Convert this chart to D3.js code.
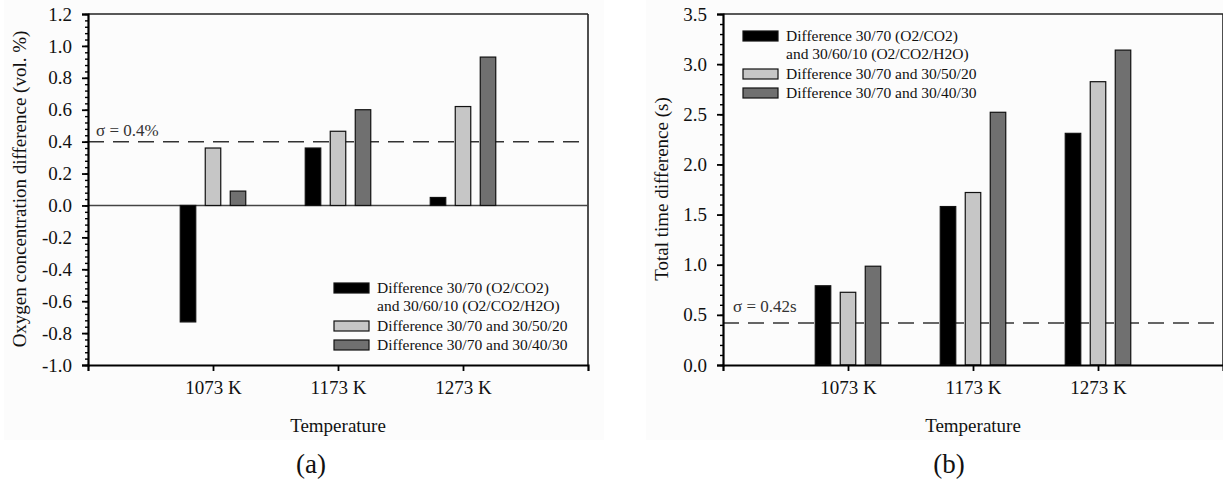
<!DOCTYPE html>
<meta charset="utf-8">
<head>
    <script type="text/javascript" src="https://d3js.org/d3.v7.min.js"></script>
    <style>
        body { margin: 0; background: #fff; }
        svg text { font-family: "Liberation Serif", "Times New Roman", serif; fill: #111; }
    </style>
    <title>Temperature differences</title>
</head>
<body>
<div id="chart"></div>
<script>
    // data
    var categories = ["1073 K", "1173 K", "1273 K"];
    var seriesNames = ["Difference 30/70 (O2/CO2)|and 30/60/10 (O2/CO2/H2O)",
                       "Difference 30/70 and 30/50/20",
                       "Difference 30/70 and 30/40/30"];
    var seriesColors = ["#000000", "#c6c6c6", "#707070"];

    var o2Black = [-0.73, 0.36, 0.05];
    var o2Light = [0.36, 0.465, 0.62];
    var o2Dark  = [0.09, 0.60, 0.93];

    var timeBlack = [0.79, 1.58, 2.31];
    var timeLight = [0.725, 1.72, 2.825];
    var timeDark  = [0.985, 2.52, 3.14];

    var o2Ticks = [-1.0, -0.8, -0.6, -0.4, -0.2, 0.0, 0.2, 0.4, 0.6, 0.8, 1.0, 1.2];
    var timeTicks = [0.0, 0.5, 1.0, 1.5, 2.0, 2.5, 3.0, 3.5];

    var serif = '"Liberation Serif", "Times New Roman", serif';
    var W = 1223, H = 479;
    var svg = d3.select("#chart").append("svg").attr("width", W).attr("height", H)
        .style("font-family", serif);

    // faint panel backgrounds
    svg.append("rect").attr("x", 4).attr("y", 0).attr("width", 600).attr("height", 440).attr("fill", "#fcfcfc");
    svg.append("rect").attr("x", 646).attr("y", 0).attr("width", 577).attr("height", 440).attr("fill", "#fcfcfc");

    function styleAxis(a) {
        a.attr("font-family", serif).attr("font-size", 19);
        a.select(".domain").attr("stroke-width", 2.2);
        a.selectAll("line").attr("stroke-width", 1.8);
        a.selectAll("text").style("font-family", serif).style("font-size", "19px").style("fill", "#111");
    }

    function drawPanel(cfg) {
        var g = svg.append("g");
        var x = d3.scaleLinear().domain([0, 4]).range([cfg.left, cfg.left + 500]);
        var y = d3.scaleLinear().domain(cfg.domain).range([365, 14]);
        var offset = d3.scalePoint().domain([0, 1, 2]).range([-25, 25]);
        var bw = 15.5;

        // border top / right
        g.append("line").attr("x1", x(0)).attr("x2", x(4)).attr("y1", y(cfg.domain[1])).attr("y2", y(cfg.domain[1]))
            .attr("stroke", "#222").attr("stroke-width", 1.6);
        g.append("line").attr("x1", x(4)).attr("x2", x(4)).attr("y1", y(cfg.domain[1])).attr("y2", y(cfg.domain[0]))
            .attr("stroke", "#222").attr("stroke-width", 1.6);

        // zero line
        if (cfg.domain[0] < 0) {
            g.append("line").attr("x1", x(0)).attr("x2", x(4)).attr("y1", y(0)).attr("y2", y(0))
                .attr("stroke", "#444").attr("stroke-width", 1.5);
        }

        // sigma line
        g.append("line").attr("x1", x(0)).attr("x2", x(4)).attr("y1", y(cfg.sigma)).attr("y2", y(cfg.sigma))
            .attr("stroke", "#333").attr("stroke-width", 1.5).attr("stroke-dasharray", "16,9");
        g.append("text").attr("x", cfg.left + cfg.sigmaDx).attr("y", y(cfg.sigma) - cfg.sigmaDy)
            .style("font-size", "17px").style("fill", "#333").text(cfg.sigmaLabel);

        // bars
        cfg.series.forEach(function (vals, s) {
            g.selectAll(null).data(vals).enter().append("rect")
                .attr("x", function (d, i) { return x(i + 1) + offset(s) - bw / 2; })
                .attr("y", function (d) { return y(Math.max(0, d)); })
                .attr("width", bw)
                .attr("height", function (d) { return Math.abs(y(d) - y(0)); })
                .attr("fill", seriesColors[s])
                .attr("stroke", "#111").attr("stroke-width", 1.2);
        });

        // minor ticks
        var minor = d3.range(cfg.domain[0], cfg.domain[1] + 1e-9, cfg.minorStep);
        g.append("g").attr("transform", "translate(" + cfg.left + ",0)")
            .call(d3.axisLeft(y).tickValues(minor).tickSize(3).tickFormat(""))
            .call(function (a) { a.select(".domain").remove(); a.selectAll("line").attr("stroke-width", 1.4); });

        // y axis
        g.append("g").attr("transform", "translate(" + cfg.left + ",0)")
            .call(d3.axisLeft(y).tickValues(cfg.ticks).tickSize(6).tickPadding(10)
                .tickFormat(function (d) { return d.toFixed(1); }))
            .call(styleAxis);

        // x axis
        g.append("g").attr("transform", "translate(0,365)")
            .call(d3.axisBottom(x).tickValues([1, 2, 3]).tickSize(6).tickPadding(10)
                .tickFormat(function (d) { return categories[d - 1]; }))
            .call(styleAxis);

        // axis titles
        g.append("text").attr("x", x(2)).attr("y", 432).attr("text-anchor", "middle")
            .style("font-size", "19px").text("Temperature");
        g.append("text").attr("transform", "translate(" + cfg.titleX + ",189) rotate(-90)")
            .attr("text-anchor", "middle").style("font-size", "19px").text(cfg.yTitle);
        g.append("text").attr("x", cfg.panelX).attr("y", 473).attr("text-anchor", "middle")
            .style("font-size", "27px").text(cfg.panelLabel);

        // legend
        var lg = g.append("g").attr("transform", "translate(" + cfg.legX + "," + cfg.legY + ")");
        var rowY = [0, 38, 57];
        seriesNames.forEach(function (name, s) {
            lg.append("rect").attr("x", 0).attr("y", rowY[s] - 10).attr("width", 35).attr("height", 10)
                .attr("fill", seriesColors[s]).attr("stroke", "#111").attr("stroke-width", 1.2);
            name.split("|").forEach(function (line, k) {
                lg.append("text").attr("x", 43).attr("y", rowY[s] + k * 18).style("font-size", "15.5px").text(line);
            });
        });
    }

    drawPanel({
        left: 88, domain: [-1.0, 1.2], ticks: o2Ticks, minorStep: 0.04,
        series: [o2Black, o2Light, o2Dark],
        sigma: 0.4, sigmaLabel: "\u03c3 = 0.4%", sigmaDx: 8, sigmaDy: 6,
        yTitle: "Oxygen concentration difference (vol. %)", titleX: 26,
        panelLabel: "(a)", panelX: 311,
        legX: 334, legY: 293
    });

    drawPanel({
        left: 723, domain: [0, 3.5], ticks: timeTicks, minorStep: 0.1,
        series: [timeBlack, timeLight, timeDark],
        sigma: 0.42, sigmaLabel: "\u03c3 = 0.42s", sigmaDx: 10, sigmaDy: 11,
        yTitle: "Total time difference (s)", titleX: 668,
        panelLabel: "(b)", panelX: 949,
        legX: 743, legY: 41
    });
</script>
</body>
</html>
